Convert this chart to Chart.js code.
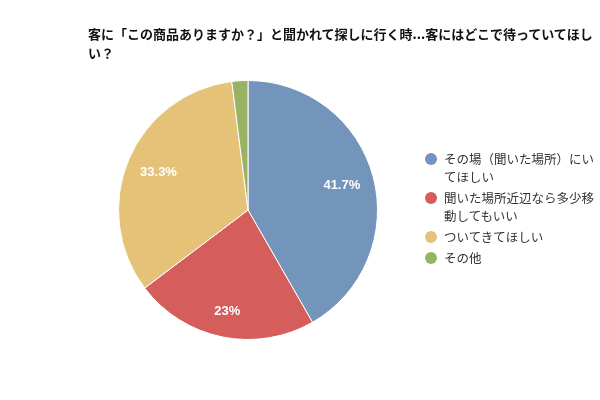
<!DOCTYPE html>
<html><head><meta charset="utf-8">
<script src="https://cdn.jsdelivr.net/npm/chart.js@4"></script>
<style>
html,body{margin:0;padding:0;background:#fff;}
#wrap{position:relative;width:600px;height:400px;font-family:"Noto Sans CJK JP","Noto Sans",sans-serif;}
#title{position:absolute;left:88px;top:24px;font-size:13px;font-weight:bold;color:#111;line-height:19px;white-space:nowrap;}
#legend{position:absolute;left:424px;top:150px;width:172px;font-size:12.5px;color:#333;line-height:18px;}
.item{position:relative;padding-left:20px;margin-bottom:3px;}
.dot{position:absolute;left:1px;top:3px;width:12px;height:12px;border-radius:50%;}
canvas{position:absolute;left:0;top:0;}
</style></head>
<body><div id="wrap"><canvas id="c" width="600" height="400"></canvas><div id="title"></div><div id="legend"></div></div>
<script>
const titleLines = ["客に「この商品ありますか？」と聞かれて探しに行く時...客にはどこで待っていてほし", "い？"];
const categories = ["その場（聞いた場所）にいてほしい", "聞いた場所近辺なら多少移動してもいい", "ついてきてほしい", "その他"];
const legendLines = [["その場（聞いた場所）にい", "てほしい"], ["聞いた場所近辺なら多少移", "動してもいい"], ["ついてきてほしい"], ["その他"]];
const values = [41.7, 23, 33.3, 2.0];
const valueLabels = ["41.7%", "23%", "33.3%", ""];
const colors = ["#7394BB", "#D55E5D", "#E6C279", "#99B364"];

document.getElementById('title').innerHTML = titleLines.join('<br>');
const lg = document.getElementById('legend');
legendLines.forEach((lines, i) => {
  const d = document.createElement('div'); d.className = 'item';
  d.innerHTML = '<span class="dot" style="background:' + colors[i] + '"></span>' + lines.join('<br>');
  lg.appendChild(d);
});

const labelPlugin = {
  id: 'valLabels',
  afterDatasetsDraw(chart) {
    const ctx = chart.ctx;
    const meta = chart.getDatasetMeta(0);
    ctx.save();
    ctx.fillStyle = '#fff';
    ctx.font = 'bold 13px "Liberation Sans", Arial, sans-serif';
    ctx.textAlign = 'center';
    ctx.textBaseline = 'middle';
    meta.data.forEach((arc, i) => {
      if (!valueLabels[i]) return;
      const p = arc.getProps(['x','y','startAngle','endAngle','outerRadius'], true);
      const mid = (p.startAngle + p.endAngle) / 2;
      const r = p.outerRadius * (i === 1 ? 0.8 : 0.75);
      ctx.fillText(valueLabels[i], p.x + Math.cos(mid) * r, p.y + Math.sin(mid) * r);
    });
    ctx.restore();
  }
};

new Chart(document.getElementById('c'), {
  type: 'pie',
  data: { labels: categories, datasets: [{ data: values, backgroundColor: colors, borderColor: '#fff', borderWidth: 1 }] },
  options: {
    responsive: false, animation: false,
    layout: { padding: { left: 118, right: 222, top: 80, bottom: 60 } },
    plugins: { legend: { display: false }, tooltip: { enabled: false }, title: { display: false } }
  },
  plugins: [labelPlugin]
});
</script></body></html>
